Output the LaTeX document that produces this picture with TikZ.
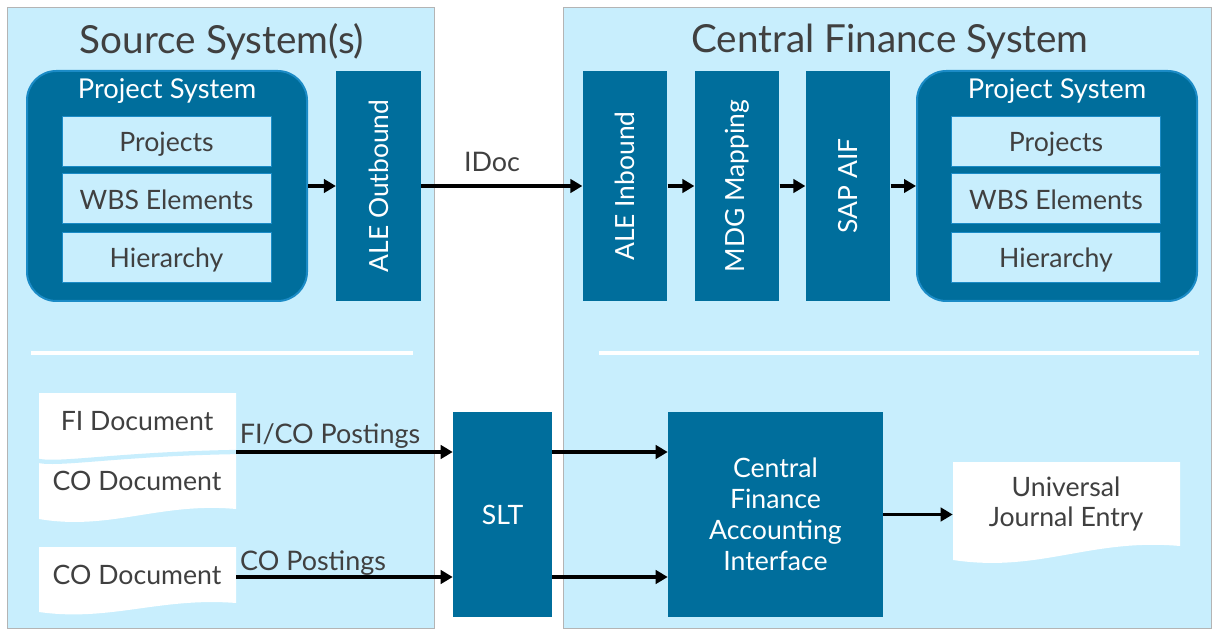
\documentclass[tikz,border=0pt]{standalone}
\usepackage{fontspec}
\setmainfont{Lato}
\usetikzlibrary{arrows.meta}
\definecolor{panel}{HTML}{C8EEFD}
\definecolor{sapblue}{HTML}{006E9C}
\definecolor{psborder}{HTML}{1B8BC6}
\definecolor{txt}{HTML}{404040}
\definecolor{pgrey}{HTML}{B4B4B4}
\tikzset{
  panelbox/.style={fill=panel, draw=pgrey, line width=0.6pt, inner sep=0pt, minimum height=465.75pt},
  psbox/.style={fill=sapblue, draw=psborder, line width=1.5pt, rounded corners=22pt, inner sep=0pt, minimum width=210pt, minimum height=172.5pt},
  innerbox/.style={fill=panel, draw=psborder, line width=0.4pt, inner sep=0pt, minimum width=156.75pt, minimum height=37.5pt, text=txt, font=\fontsize{20}{22}\selectfont, text height=16pt, text depth=0pt},
  vbox/.style={fill=sapblue, inner sep=0pt, minimum width=172.5pt, minimum height=63.5pt, rotate=90, text=white, font=\fontsize{19.8}{22}\selectfont},
  bigbox/.style={fill=sapblue, inner sep=0pt, minimum height=153.75pt, text=white, font=\fontsize{20}{23.25}\selectfont, align=center},
  title/.style={text=txt, font=\fontsize{29}{32}\selectfont},
  pstitle/.style={text=white, font=\fontsize{20.5}{23}\selectfont},
  lbl/.style={text=txt, font=\fontsize{20.2}{23}\selectfont, inner sep=0pt},
  doc/.style={inner sep=0pt, minimum width=147.75pt},
  doctext/.style={text=txt, font=\fontsize{20}{22}\selectfont, align=center},
  arr/.style={line width=2.6pt, -{Triangle[length=9pt,width=10pt]}},
  sepline/.style={white, line width=3pt},
}
\begin{document}
\begin{tikzpicture}[x=0.75pt,y=-0.75pt]
\useasboundingbox (0,0) rectangle (1212,630);
\fill[white] (0,0) rectangle (1212,630);

% panels
\node[panelbox, minimum width=320.25pt] (left) at (220.5,317.5) {};
\node[panelbox, minimum width=486pt] (right) at (887,317.5) {};
\node[title] (t1) at (222,42) {Source System(s)};
\node[title] (t2) at (890,42) {Central Finance System};

% left project system
\node[psbox] (ps1) at (167,186) {};
\node[pstitle] (ps1t) at (167,91) {Project System};
\node[innerbox] (p1) at (166.5,141) {Projects};
\node[innerbox] (w1) at (166.5,198.5) {WBS Elements};
\node[innerbox] (h1) at (166.5,257) {Hierarchy};

\node[vbox] (aleo) at (378.5,186) {ALE Outbound};
\node[vbox] (alei) at (625,186) {ALE Inbound};
\node[vbox] (mdg) at (737,186) {MDG Mapping};
\node[vbox] (aif) at (848,186) {SAP AIF};

% right project system
\node[psbox] (ps2) at (1057,186) {};
\node[pstitle] (ps2t) at (1057,91) {Project System};
\node[innerbox] (p2) at (1056,141) {Projects};
\node[innerbox] (w2) at (1056,198.5) {WBS Elements};
\node[innerbox] (h2) at (1056,257) {Hierarchy};

% top arrows
\draw[arr] (ps1.east) -- (aleo.north);
\draw[arr] (aleo.south) -- node[lbl, pos=0.44, anchor=base, yshift=10.5pt] (idoc) {IDoc} (alei.north);
\draw[arr] (alei.south) -- (mdg.north);
\draw[arr] (mdg.south) -- (aif.north);
\draw[arr] (aif.south) -- (ps2.west);

% separators
\draw[sepline] (31,353) -- (413,353);
\draw[sepline] (599,353) -- (1199,353);

% documents
\fill[white] (39,393) -- (236,393) -- (236,509) .. controls (160,502) and (110,531) .. (39,519) -- cycle;
\draw[panel, line width=3.2pt] (39,461) .. controls (62,465) and (120,454) .. (236,452);
\node[doc, minimum height=88.5pt] (fico) at (137.5,452) {};
\node[doctext] (fid) at (137,421) {FI Document};
\node[doctext] (cod1) at (137,481) {CO Document};

\fill[white] (39,547) -- (236,547) -- (236,603) .. controls (160,597) and (110,622) .. (39,612) -- cycle;
\node[doc, minimum height=45pt] (co2) at (137.5,577) {};
\node[doctext] (cod2) at (137,575) {CO Document};

\fill[white] (953,462) -- (1180,462) -- (1180,546) .. controls (1090,538) and (1040,573) .. (953,560) -- cycle;
\node[doc, minimum width=170.25pt, minimum height=81pt] (uje) at (1066.5,516) {};
\node[doctext] (ujet) at (1066,504) {Universal\\Journal Entry};

% SLT and CFAI
\node[bigbox, minimum width=74.25pt] (slt) at (502.5,514.5) {SLT};
\node[bigbox, minimum width=161.25pt] (cfai) at (775.5,514.5) {Central\\Finance\\Accounting\\Interface};

\draw[arr] (fico.east) -- node[lbl, pos=0.433, anchor=base, yshift=6.75pt] (ficol) {FI/CO Postings} (fico.east -| slt.west);
\draw[arr] (co2.east) -- node[lbl, pos=0.355, anchor=base, yshift=5.25pt] (col) {CO Postings} (co2.east -| slt.west);
\draw[arr] (slt.east |- fico.east) -- (cfai.west |- fico.east);
\draw[arr] (slt.east |- co2.east) -- (cfai.west |- co2.east);
\draw[arr] (cfai.east) -- (cfai.east -| uje.west);
\end{tikzpicture}
\end{document}
